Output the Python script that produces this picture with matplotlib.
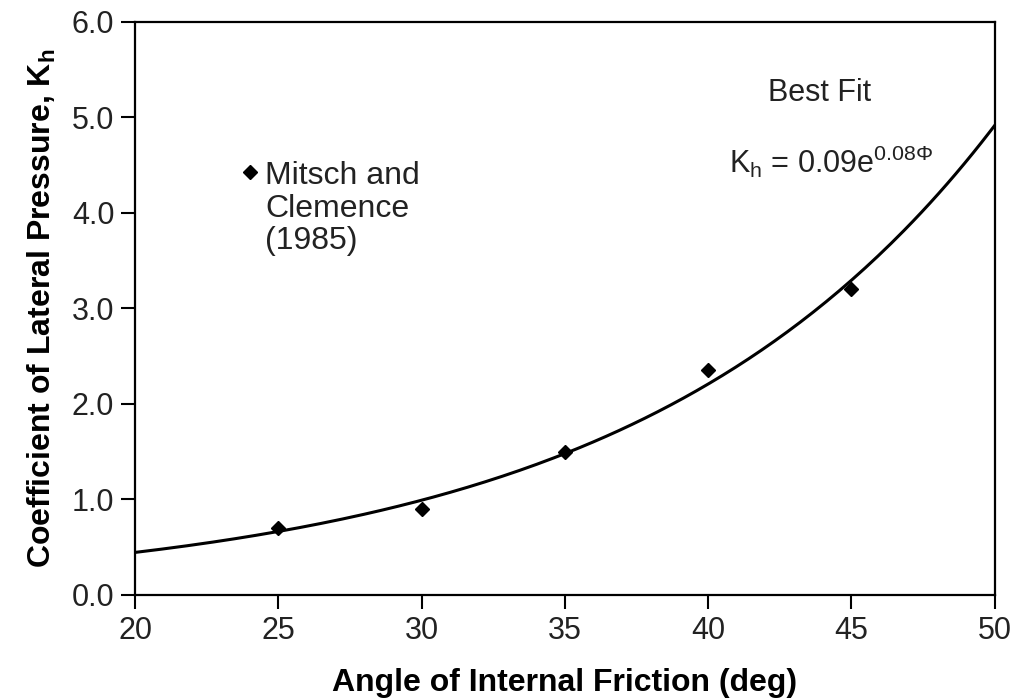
import matplotlib.pyplot as plt
import numpy as np

plt.rcParams['font.family'] = ['Liberation Sans', 'DejaVu Sans']

# measured points, Mitsch and Clemence (1985)
phi = [25, 30, 35, 40, 45]
kh = [0.70, 0.90, 1.50, 2.35, 3.20]

# best fit Kh = 0.09 exp(0.08 phi)
fit_a = 0.09
fit_b = 0.08
phi_fit = np.linspace(20, 50, 200)
kh_fit = fit_a * np.exp(fit_b * phi_fit)

xticks = [20, 25, 30, 35, 40, 45, 50]
yticks = [0.0, 1.0, 2.0, 3.0, 4.0, 5.0, 6.0]

fig = plt.figure(figsize=(10.16, 7), dpi=100)
ax = fig.add_axes([0.133, 0.15, 0.846, 0.819])

ax.plot(phi_fit, kh_fit, color='black', linewidth=2.2)
ax.plot(phi, kh, linestyle='none', marker='D', color='black', markersize=7.5)

# legend drawn by hand like the original
ax.plot([24.0], [4.43], linestyle='none', marker='D', color='black', markersize=7.5)
ax.text(24.55, 4.54, 'Mitsch and\nClemence\n(1985)', fontsize=23, va='top',
        linespacing=1.1, color='#222222')

ax.text(43.9, 5.25, 'Best Fit', fontsize=22, ha='center', va='center', color='#222222')
ax.text(44.3, 4.53, r'K$_\mathregular{h}$ = 0.09e$^\mathregular{0.08\Phi}$',
        fontsize=22, ha='center', va='center', color='#222222')

ax.set_xlim(20, 50)
ax.set_ylim(0, 6)
ax.set_xticks(xticks)
ax.set_yticks(yticks)
ax.set_yticklabels(['%.1f' % v for v in yticks])
ax.tick_params(direction='out', length=10, width=1.5, labelsize=22, pad=5,
               labelcolor='#222222')

for s in ax.spines.values():
    s.set_linewidth(1.6)

ax.set_xlabel('Angle of Internal Friction (deg)', fontsize=23, fontweight='bold',
              labelpad=16)
ax.set_ylabel(r'Coefficient of Lateral Pressure, K$_\mathregular{h}$', fontsize=23,
              fontweight='bold', labelpad=10)

plt.savefig('out.png', dpi=100)
